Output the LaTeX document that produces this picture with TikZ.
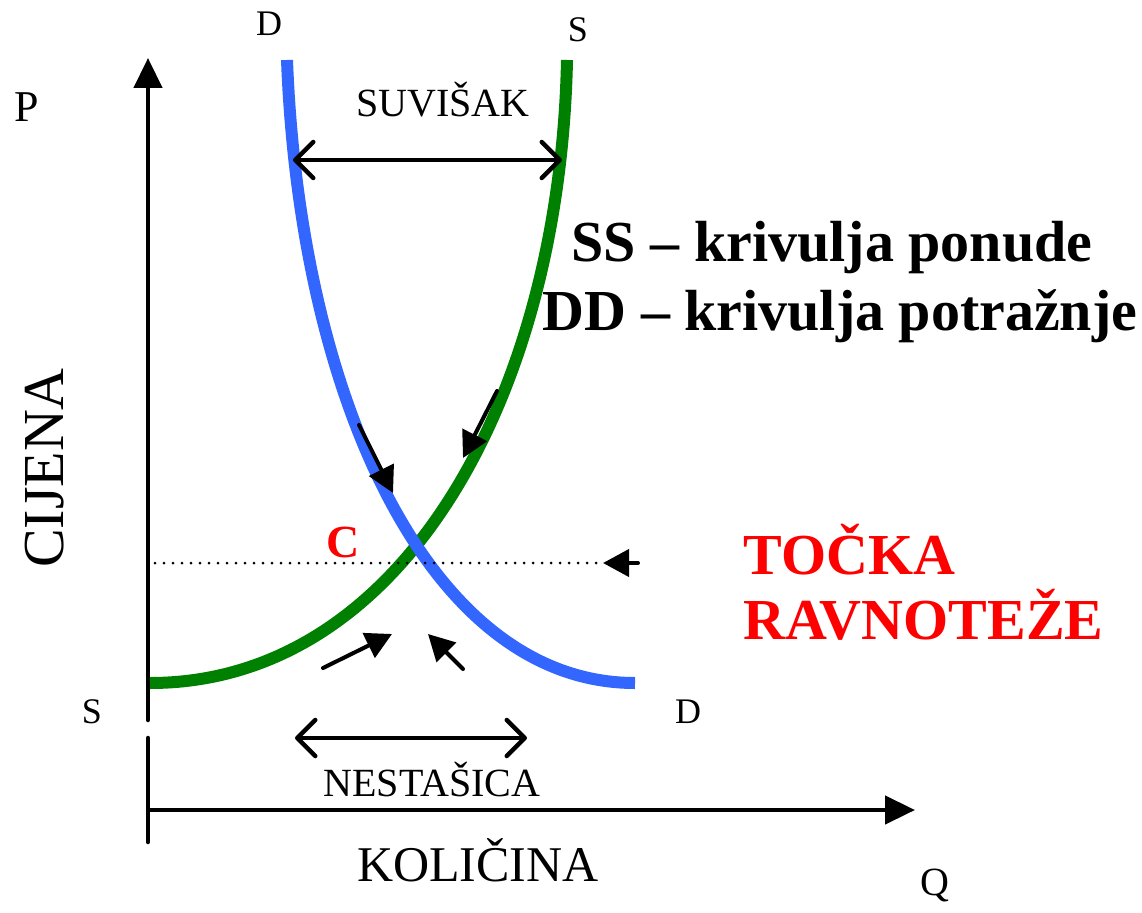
\documentclass[tikz,border=0pt]{standalone}
\usepackage{fontspec}
\setmainfont{Liberation Serif}
\usetikzlibrary{arrows.meta}
\definecolor{ponuda}{RGB}{0,128,0}
\definecolor{potraznja}{RGB}{51,102,255}

\begin{document}
\begin{tikzpicture}[x=1pt,y=-1pt,
  os/.style={line width=4.5pt,-{Triangle[length=30pt,width=28pt]}},
  smjer/.style={line width=4pt,line cap=round,-{Triangle[length=26pt,width=27pt]}},
  razlika/.style={line width=4.5pt,line cap=round,
    {Straight Barb[length=18pt,width=36pt,round]}-{Straight Barb[length=18pt,width=36pt,round]}},
  krivulja/.style={line width=12pt},
  malo/.style={font=\fontsize{36}{36}\selectfont},
  srednje/.style={font=\fontsize{40}{40}\selectfont},
  veliko/.style={font=\fontsize{50}{50}\selectfont},
  naslov/.style={font=\fontsize{58}{60}\selectfont\bfseries}]
\useasboundingbox (0,0) rectangle (1142,912);
% osi
\coordinate (O) at (148,720);
\coordinate (Pvrh) at (148,58);
\coordinate (Qdno) at (148,738);
\coordinate (Qrep) at (148,842);
\coordinate (Qlijevo) at (148,810);
\coordinate (Qdesno) at (915,810);
\draw[line width=4.5pt,line cap=round] (O) -- (148,100);
\draw[os] (148,100) -- (Pvrh);
\draw[line width=4.5pt,line cap=round] (Qdno) -- (Qrep);
\draw[os] (Qlijevo) -- (Qdesno);
% krivulje
\coordinate (Sdno) at (150,683);
\coordinate (Svrh) at (567,60);
\coordinate (Dvrh) at (287,60);
\coordinate (Ddno) at (635,683);
\draw[krivulja,ponuda] (Sdno) .. controls (400,683) and (560,400) .. (Svrh);
\draw[krivulja,potraznja] (Dvrh) .. controls (300,400) and (430,683) .. (Ddno);
% ravnoteza
\coordinate (Plijevo) at (155,563);
\coordinate (Pdesno) at (603,563);
\coordinate (Prep) at (638,563);
\draw[line width=3pt,line cap=round,dash pattern=on 0pt off 9pt] (Plijevo) -- (Pdesno);
\draw[smjer] (Prep) -- (Pdesno);
% smjerovi
\coordinate (a1) at (359,425); \coordinate (a2) at (393,493);
\coordinate (b1) at (497,391); \coordinate (b2) at (463,458);
\coordinate (c1) at (323,668); \coordinate (c2) at (392,634);
\coordinate (d1) at (463,669); \coordinate (d2) at (428,634);
\draw[smjer] (a1) -- (a2);
\draw[smjer] (b1) -- (b2);
\draw[smjer] (c1) -- (c2);
\draw[smjer] (d1) -- (d2);
% suvisak i nestasica
\coordinate (u1) at (293,160); \coordinate (u2) at (562,160);
\coordinate (n1) at (295,738); \coordinate (n2) at (527,738);
\draw[razlika] (u1) -- (u2);
\draw[razlika] (n1) -- (n2);
\node[srednje] (suvisak) at (443,100) {SUVIŠAK};
\node[srednje] (nestasica) at (432,780) {NESTAŠICA};
% oznake
\node[malo] (lblDg) at (269,24) {D};
\node[malo] (lblSg) at (578,30) {S};
\node[malo] (lblSd) at (92,712) {S};
\node[malo] (lblDd) at (688,712) {D};
\node[font=\fontsize{44}{44}\selectfont] (lblP) at (27,107) {P};
\node[srednje] (lblQ) at (935,885) {Q};
\node[font=\fontsize{58}{58}\selectfont,rotate=90] (cijena) at (45,468) {CIJENA};
\node[veliko] (kolicina) at (478,860) {KOLIČINA};
\node[font=\fontsize{46}{46}\selectfont\bfseries,text=red] (lblC) at (343,542) {C};
\node[naslov] (ss) at (832,248) {SS – krivulja ponude};
\node[naslov] (dd) at (840,316) {DD – krivulja potražnje};
\node[naslov,text=red,anchor=west] (tocka) at (740,550) {TOČKA};
\node[naslov,text=red,anchor=west] (ravnoteza) at (740,615) {RAVNOTEŽE};
\end{tikzpicture}
\end{document}
